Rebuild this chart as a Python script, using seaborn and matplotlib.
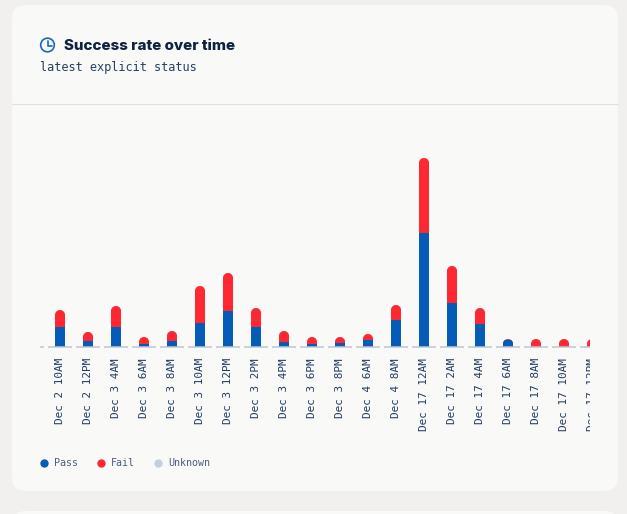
"""
Success rate over time card: stacked pass/fail bars per time bucket.
"""
import matplotlib
matplotlib.use("Agg")
import matplotlib.pyplot as plt
import numpy as np
import seaborn as sns
from matplotlib.lines import Line2D
from matplotlib.patches import Circle, FancyBboxPatch
from matplotlib.path import Path
from matplotlib.transforms import Bbox, IdentityTransform

labels = [
    "Dec 2 10AM", "Dec 2 12PM", "Dec 3 4AM", "Dec 3 6AM", "Dec 3 8AM",
    "Dec 3 10AM", "Dec 3 12PM", "Dec 3 2PM", "Dec 3 4PM", "Dec 3 6PM",
    "Dec 3 8PM", "Dec 4 6AM", "Dec 4 8AM", "Dec 17 12AM", "Dec 17 2AM",
    "Dec 17 4AM", "Dec 17 6AM", "Dec 17 8AM", "Dec 17 10AM", "Dec 17 12PM",
]
pass_vals = np.array([20, 6, 20, 3, 6, 24, 36, 20, 5, 3, 4, 7, 27, 114, 44, 23, 7.5, 0, 0, 0])
fail_vals = np.array([17, 9, 21, 7, 10, 37, 38, 19, 11, 7, 6, 6, 15, 75, 37, 16, 0.5, 8, 8, 8])
unknown_vals = np.zeros(len(labels))

W, H = 627, 514
PAGE = "#f1f0ee"
CARD = "#f9f9f7"
BLUE = "#045cb8"
RED = "#fe2833"
GREY = "#c3cfdf"
MONO = "DejaVu Sans Mono"

sns.set_theme(style="white")
plt.rcParams["font.family"] = ["Inter", "DejaVu Sans"]

fig = plt.figure(figsize=(W / 100, H / 100), dpi=100, facecolor=PAGE)

# Background layer in pixel coordinates: cards, divider, header
bg = fig.add_axes([0, 0, 1, 1], zorder=0)
bg.set_xlim(0, W)
bg.set_ylim(H, 0)
bg.axis("off")
bg.add_patch(FancyBboxPatch((12, 5), 606, 486, boxstyle="round,pad=0,rounding_size=14",
                            fc=CARD, ec="none"))
bg.add_patch(FancyBboxPatch((12, 511), 606, 40, boxstyle="round,pad=0,rounding_size=14",
                            fc=CARD, ec="none"))
bg.plot([12, 618], [103.5, 103.5], color="#dfdfdc", lw=0.8)

bg.add_patch(Circle((47.5, 45), 6.8, fc="none", ec="#1668c4", lw=1.2))
bg.plot([48, 48, 51.5], [40.5, 45.5, 45.5], color="#1668c4", lw=1.2)
bg.text(64, 45.8, "Success rate over time", fontsize=10.9, fontweight=800,
        color="#0f2240", va="center", ha="left")
bg.text(40, 67, "latest explicit status", family=MONO, fontsize=8.6,
        color="#24405f", va="center", ha="left")

# Chart axes: one y unit is one pixel, one category is 28 pixels
ax = fig.add_axes([40 / W, (H - 347) / H, 560 / W, 217 / H], zorder=1)
ax.patch.set_alpha(0)

total = pass_vals + fail_vals + unknown_vals
layers = [(total, GREY), (pass_vals + fail_vals, RED), (pass_vals, BLUE)]
for heights, color in layers:
    sns.barplot(x=labels, y=heights, color=color, width=10 / 28, saturation=1,
                errorbar=None, order=labels, linewidth=0, edgecolor="none", ax=ax)

ax.set_xlim(-20 / 28, 540 / 28)
ax.set_ylim(0, 217)
sns.despine(ax=ax, left=True, bottom=True)
ax.set_yticks([])
ax.tick_params(axis="x", length=0, pad=8)
ax.set_xticks(range(len(labels)))
ax.set_xticklabels(labels, rotation=90, family=MONO, fontsize=7.9, color="#1f3a5f")

# The card scrolls horizontally, so everything is cut at x=590
clip = Bbox([[0, 0], [590, H]])
xs = np.arange(len(labels))
base = ax.hlines([0] * len(labels), xs - 12 / 28, xs + 12 / 28, color="#bcc6d3", lw=1.1)
stub = ax.hlines([0], -20 / 28, -16 / 28, color="#bcc6d3", lw=1.1)
for line in (base, stub):
    line.set_clip_box(clip)
    line.set_clip_on(True)
for tick in ax.get_xticklabels():
    tick.set_clip_box(clip)
    tick.set_clip_on(True)


def rounded_top(i, height):
    # Bar outline in display pixels with a semicircular cap
    x0, y0 = ax.transData.transform((i - 5 / 28, 0))
    x1, y1 = ax.transData.transform((i + 5 / 28, height))
    r = (x1 - x0) / 2
    theta = np.linspace(0, np.pi, 24)
    cap_x = (x0 + x1) / 2 + r * np.cos(theta)
    cap_y = y1 - r + r * np.sin(theta)
    verts = [(x1, y0 - 2)] + list(zip(cap_x, cap_y)) + [(x0, y0 - 2), (x1, y0 - 2)]
    return Path(verts, closed=True)


for container in ax.containers:
    for i, bar in enumerate(container):
        bar.set_clip_path(rounded_top(i, total[i]), IdentityTransform())
        bar.set_clip_box(clip)

handles = [
    Line2D([], [], marker="o", ls="", ms=6, mec="none", color=BLUE),
    Line2D([], [], marker="o", ls="", ms=6, mec="none", color=RED),
    Line2D([], [], marker="o", ls="", ms=6, mec="none", color=GREY),
]
fig.legend(handles, ["Pass", "Fail", "Unknown"], loc="center left",
           bbox_to_anchor=(40 / W, (H - 463) / H), ncol=3, frameon=False,
           borderpad=0, borderaxespad=0, handlelength=0.8, handletextpad=0.6,
           columnspacing=1.9, labelcolor="#4a5f7a",
           prop={"family": MONO, "size": 7.2})

plt.savefig("out.png", dpi=100, facecolor=PAGE)
plt.close()
